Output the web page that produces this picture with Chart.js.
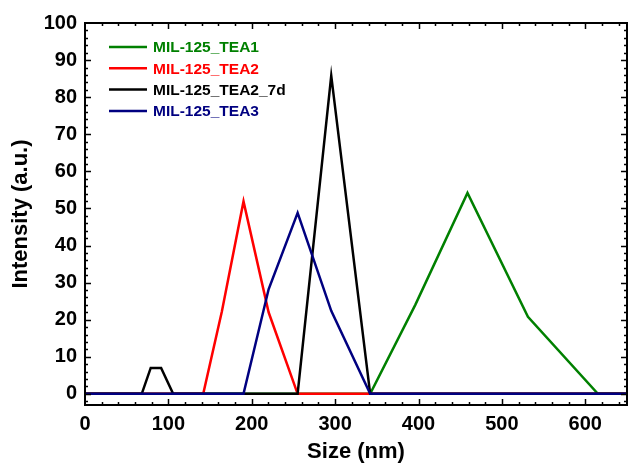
<!DOCTYPE html>
<html>
<head>
<meta charset="utf-8">
<script src="https://cdn.jsdelivr.net/npm/chart.js@4.4.1/dist/chart.umd.min.js"></script>
<style>
html,body{margin:0;padding:0;background:#fff;}
#wrap{width:628px;height:465px;position:relative;}
</style>
</head>
<body>
<div id="wrap"><canvas id="c" width="628" height="465"></canvas></div>
<script>
// Size bins (nm)
const sizes = [0.4, 58.77, 68.06, 78.82, 91.28, 105.7, 122.4, 141.8, 164.2, 190.1, 220.2, 255.0, 295.3, 342.0, 396.1, 458.7, 531.2, 615.1, 712.4];
const tea1   = [0, 0, 0, 0, 0, 0, 0, 0, 0, 0, 0, 0, 0, 0, 24.0, 54.2, 20.8, 0, 0];
const tea2   = [0, 0, 0, 0, 0, 0, 0, 0, 22.3, 51.9, 22.0, 0, 0, 0, 0, 0, 0, 0, 0];
const tea2_7d= [0, 0, 0, 7.0, 7.0, 0, 0, 0, 0, 0, 0, 0, 85.8, 0, 0, 0, 0, 0, 0];
const tea3   = [0, 0, 0, 0, 0, 0, 0, 0, 0, 0, 28.2, 48.8, 22.4, 0, 0, 0, 0, 0, 0];
const seriesNames = ['MIL-125_TEA1', 'MIL-125_TEA2', 'MIL-125_TEA2_7d', 'MIL-125_TEA3'];
const xTicks = [0, 100, 200, 300, 400, 500, 600];
const yTicks = [0, 10, 20, 30, 40, 50, 60, 70, 80, 90, 100];

const colors = ['#008000', '#ff0000', '#000000', '#000080'];
const seriesData = [tea1, tea2, tea2_7d, tea3];
const FONT = "'Liberation Sans', Arial, sans-serif";

const datasets = seriesData.map((arr, i) => ({
  label: seriesNames[i],
  data: sizes.map((s, k) => ({x: s, y: arr[k]})),
  borderColor: colors[i],
  backgroundColor: colors[i],
  borderWidth: 2.5,
  pointRadius: 0,
  tension: 0,
  fill: false,
  order: 4 - i
}));

const framePlugin = {
  id: 'frame',
  afterDraw(chart) {
    const ctx = chart.ctx;
    const a = chart.chartArea;
    const xs = chart.scales.x, ys = chart.scales.y;
    ctx.save();
    ctx.strokeStyle = '#000';
    ctx.lineWidth = 2;
    ctx.strokeRect(a.left, a.top, a.right - a.left, a.bottom - a.top);
    ctx.lineWidth = 1.5;
    ctx.beginPath();
    for (let v = 0; v <= 650; v += 20) {
      const px = Math.round(xs.getPixelForValue(v)) + 0.5;
      if (px < a.left + 1 || px > a.right - 1) continue;
      const len = (v % 100 === 0) ? 6 : 3;
      ctx.moveTo(px, a.bottom); ctx.lineTo(px, a.bottom - len);
      ctx.moveTo(px, a.top); ctx.lineTo(px, a.top + len);
    }
    for (let v = -2; v <= 100; v += 2) {
      const py = Math.round(ys.getPixelForValue(v)) + 0.5;
      if (py < a.top + 1 || py > a.bottom - 1) continue;
      const len = (v % 10 === 0) ? 6 : 3;
      ctx.moveTo(a.left, py); ctx.lineTo(a.left + len, py);
      ctx.moveTo(a.right, py); ctx.lineTo(a.right - len, py);
    }
    ctx.stroke();

    // legend
    ctx.font = 'bold 15.5px ' + FONT;
    ctx.textBaseline = 'middle';
    chart.data.datasets.forEach((ds, i) => {
      const y = a.top + 24 + i * 21.3;
      ctx.strokeStyle = ds.borderColor;
      ctx.lineWidth = 2.5;
      ctx.beginPath();
      ctx.moveTo(a.left + 24, y); ctx.lineTo(a.left + 62, y);
      ctx.stroke();
      ctx.fillStyle = ds.borderColor;
      ctx.fillText(ds.label, a.left + 68, y + 1);
    });
    ctx.restore();
  }
};

new Chart(document.getElementById('c'), {
  type: 'line',
  data: { datasets },
  options: {
    responsive: false,
    animation: false,
    devicePixelRatio: 1,
    layout: { padding: { top: 23, right: 1, left: 0, bottom: 0 } },
    plugins: { legend: { display: false }, tooltip: { enabled: false } },
    scales: {
      x: {
        type: 'linear', min: 0, max: 650,
        afterBuildTicks: s => { s.ticks = xTicks.map(v => ({value: v})); },
        afterFit: s => { s.height = 60; },
        grid: { display: false, drawTicks: false },
        border: { display: false },
        ticks: { color: '#000', font: { family: FONT, size: 20, weight: 'bold' }, padding: 7, maxRotation: 0 },
        title: { display: true, text: 'Size (nm)', color: '#000', font: { family: FONT, size: 22, weight: 'bold' }, padding: { top: 2, bottom: 0 } }
      },
      y: {
        type: 'linear', min: -3, max: 100,
        afterBuildTicks: s => { s.ticks = yTicks.map(v => ({value: v})); },
        afterFit: s => { s.width = 85; },
        grid: { display: false, drawTicks: false },
        border: { display: false },
        ticks: { color: '#000', font: { family: FONT, size: 20, weight: 'bold' }, padding: 8 },
        title: { display: true, text: 'Intensity (a.u.)', color: '#000', font: { family: FONT, size: 22, weight: 'bold' }, padding: { top: 8, bottom: 0 } }
      }
    }
  },
  plugins: [framePlugin]
});
</script>
</body>
</html>
